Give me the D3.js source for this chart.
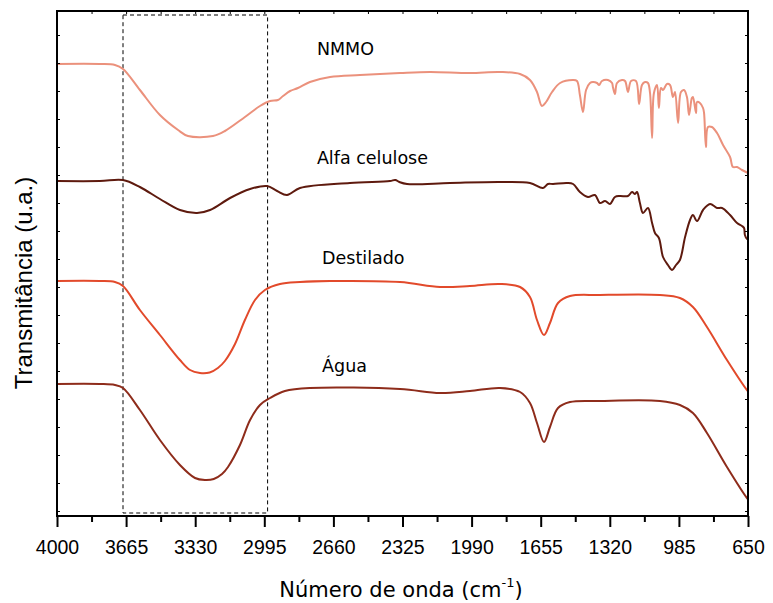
<!DOCTYPE html>
<html>
<head>
<meta charset="utf-8">
<script src="https://cdn.jsdelivr.net/npm/d3@7"></script>
<style>
  body { margin: 0; background: #fff; }
  svg { display: block; }
</style>
</head>
<body>
<svg id="chart" width="773" height="603"></svg>
<script>
// tick labels of the wavenumber axis
const xTicks = [4000, 3665, 3330, 2995, 2660, 2325, 1990, 1655, 1320, 985, 650];
const seriesNames = ["NMMO", "Alfa celulose", "Destilado", "Água"];

// [wavenumber, transmittance (a.u., offset for stacking)]
const nmmo = [[4000,90.4],[3792,90.4],[3719,90.2],[3680,89.4],[3598,85.2],[3501,80.2],[3413,77.2],[3365,76],[3244,76],[3186,77],[3089,79.8],[3016,82],[2967,83],[2929,83.2],[2904,84],[2870,85],[2832,85.6],[2774,86.8],[2676,87.8],[2531,88.2],[2337,88.6],[2192,88.8],[1998,88.6],[1852,88.8],[1755,88.4],[1707,87.2],[1673,84.8],[1649,82],[1629,82.8],[1600,84.8],[1561,86.6],[1498,87.2],[1479,87],[1465,84.2],[1450,80.8],[1435,85.2],[1416,86.6],[1402,86.8],[1382,86.6],[1372,86.2],[1358,87],[1329,87.2],[1309,86.6],[1305,85.8],[1295,84.4],[1285,86.6],[1261,87.2],[1246,87],[1232,84.8],[1217,87],[1193,87],[1178,82.4],[1164,86.2],[1149,86.8],[1135,86.6],[1125,84.6],[1115,75.6],[1106,84.6],[1091,86.2],[1082,81.6],[1072,85.6],[1062,85.2],[1043,86.4],[1028,86.2],[1014,83.8],[1004,84.8],[989,78.6],[975,84.8],[960,85.2],[946,83.8],[936,80.2],[922,83.6],[917,83.8],[902,80.6],[897,82.8],[883,82.6],[868,81.6],[863,80.6],[854,73.8],[844,77.8],[825,77.8],[800,76.6],[771,74.2],[737,71.8],[723,69.8],[703,69.8],[679,69.2],[650,68.6]];

const alfa = [[4000,67],[3792,67],[3680,67.2],[3598,65.8],[3501,63.4],[3404,61.2],[3321,60.6],[3258,61.2],[3161,63.6],[3064,65.4],[2982,66],[2933,65],[2885,64.2],[2822,65.6],[2580,66.6],[2386,67],[2360,67.2],[2340,66.8],[2303,66.4],[2095,66.6],[1852,66.8],[1707,66.6],[1644,65.6],[1620,66.4],[1595,66.4],[1528,66.6],[1498,66.4],[1465,64.8],[1426,63.8],[1392,64.2],[1368,62.6],[1343,63],[1319,62.4],[1295,63.8],[1271,64],[1232,64],[1212,64.8],[1198,64.4],[1188,64.8],[1174,62.6],[1159,60.6],[1135,61.6],[1115,58.6],[1101,56.6],[1082,55.6],[1062,51.8],[1038,50.2],[1018,49.2],[999,50.2],[980,51.2],[955,55.8],[931,59.2],[917,60.2],[897,59],[868,61.2],[834,62.4],[800,61.6],[776,61.6],[737,60.2],[703,58.6],[679,58],[669,57.6],[665,56.2],[655,55.4],[650,55.4]];

const destilado = [[4000,47],[3792,47],[3719,46.8],[3680,46],[3598,41.2],[3501,36.2],[3404,31.2],[3355,29.2],[3307,28.6],[3260,28.7],[3220,29.6],[3186,31],[3137,34.4],[3089,39.2],[3040,43.2],[2992,45.2],[2919,46.4],[2822,46.8],[2676,47],[2337,46.8],[2143,45.8],[1998,46],[1852,46.4],[1755,45.8],[1707,43.8],[1673,39.2],[1639,36.2],[1610,38.6],[1571,42.6],[1513,44],[1368,44.2],[1077,44.2],[980,43.6],[917,41.8],[849,37.8],[752,31.2],[655,25.2],[650,25]];

const agua = [[4000,26.4],[3792,26.4],[3719,26.2],[3680,25.6],[3598,21.2],[3501,15.2],[3404,10.2],[3331,7.6],[3283,7.2],[3240,7.4],[3200,8.4],[3171,9.8],[3113,14.2],[3064,19.2],[3016,22.2],[2967,23.6],[2895,25],[2774,25.6],[2337,25.4],[2143,24.6],[1998,25],[1852,25.6],[1755,24.8],[1707,22.6],[1673,18.6],[1639,14.8],[1610,17.8],[1571,21.6],[1513,22.8],[1368,23],[1077,23],[980,22.2],[917,20.6],[849,16.6],[752,9.8],[655,3.6],[650,3.4]];

// highlighted O-H band region
const boxRange = [3680, 2979];

const margin = { top: 11, right: 25, bottom: 87, left: 57 };
const width = 773 - margin.left - margin.right;
const height = 603 - margin.top - margin.bottom;

const svg = d3.select("#chart");
const g = svg.append("g").attr("transform", "translate(" + margin.left + "," + margin.top + ")");

const x = d3.scaleLinear().domain([4000, 650]).range([0, width]);
const y = d3.scaleLinear().domain([0, 101]).range([height, 0]);

const line = d3.line()
    .x(function(d) { return x(d[0]); })
    .y(function(d) { return y(d[1]); })
    .curve(d3.curveCatmullRom.alpha(0.5));

const series = [
  { name: seriesNames[0], data: nmmo, color: "#eb917c", lx: 2740, ly: 92.2 },
  { name: seriesNames[1], data: alfa, color: "#5e1a0e", lx: 2740, ly: 70.4 },
  { name: seriesNames[2], data: destilado, color: "#e24a2b", lx: 2715, ly: 50.4 },
  { name: seriesNames[3], data: agua, color: "#8e2c1b", lx: 2715, ly: 28.8 }
];

// dashed box
g.append("rect")
    .attr("x", x(boxRange[0]))
    .attr("y", y(100.2))
    .attr("width", x(boxRange[1]) - x(boxRange[0]))
    .attr("height", y(0.6) - y(100.2))
    .attr("fill", "none")
    .attr("stroke", "#000")
    .attr("stroke-width", 1)
    .attr("stroke-dasharray", "4,3");

series.forEach(function(s) {
  g.append("path")
      .datum(s.data)
      .attr("fill", "none")
      .attr("stroke", s.color)
      .attr("stroke-width", 2)
      .attr("stroke-linejoin", "round")
      .attr("d", line);

  g.append("text")
      .attr("x", x(s.lx))
      .attr("y", y(s.ly))
      .text(s.name)
      .style("font-family", "'DejaVu Sans', sans-serif")
      .style("font-size", "17.5px")
      .style("fill", "#000");
});

// minor tick positions halfway between the labelled ones
const minorTicks = xTicks.slice(1).map(function(v, i) { return (v + xTicks[i]) / 2; });

// bottom axis
const xAxis = g.append("g")
    .attr("transform", "translate(0," + height + ")")
    .call(d3.axisBottom(x).tickValues(xTicks).tickSize(11).tickPadding(13).tickFormat(d3.format("d")));
xAxis.selectAll("text")
    .style("font-family", "'Liberation Sans', Arial, sans-serif")
    .style("font-size", "19.5px")
    .style("fill", "#000");
xAxis.selectAll("line").attr("stroke-width", 2);
xAxis.select(".domain").remove();

g.append("g")
    .attr("transform", "translate(0," + height + ")")
    .call(d3.axisBottom(x).tickValues(minorTicks).tickSize(6).tickFormat(""))
    .call(function(a) {
      a.select(".domain").remove();
      a.selectAll("line").attr("stroke-width", 2);
    });

// small inward ticks on top, left, right
g.append("g")
    .call(d3.axisTop(x).tickValues(xTicks.concat(minorTicks)).tickSize(-3).tickFormat(""))
    .call(function(a) { a.select(".domain").remove(); });

const yTicks = d3.range(1, 101, 5.6);
g.append("g")
    .call(d3.axisLeft(y).tickValues(yTicks).tickSize(-3).tickFormat(""))
    .call(function(a) { a.select(".domain").remove(); });
g.append("g")
    .attr("transform", "translate(" + width + ",0)")
    .call(d3.axisRight(y).tickValues(yTicks).tickSize(-3).tickFormat(""))
    .call(function(a) { a.select(".domain").remove(); });

// frame
g.append("rect")
    .attr("width", width)
    .attr("height", height)
    .attr("fill", "none")
    .attr("stroke", "#000")
    .attr("stroke-width", 2);

// axis titles
const xTitle = svg.append("text")
    .attr("x", 401)
    .attr("y", 597)
    .attr("text-anchor", "middle")
    .style("font-family", "'DejaVu Sans', sans-serif")
    .style("font-size", "21px")
    .style("fill", "#000");
xTitle.append("tspan").text("Número de onda (cm");
xTitle.append("tspan").attr("dy", -10).style("font-size", "13px").text("-1");
xTitle.append("tspan").attr("dy", 10).text(")");

svg.append("text")
    .attr("transform", "translate(32," + 283 + ") rotate(-90)")
    .attr("text-anchor", "middle")
    .style("font-family", "'Liberation Sans', Arial, sans-serif")
    .style("font-size", "24px")
    .style("fill", "#000")
    .text("Transmitância (u.a.)");
</script>
</body>
</html>
